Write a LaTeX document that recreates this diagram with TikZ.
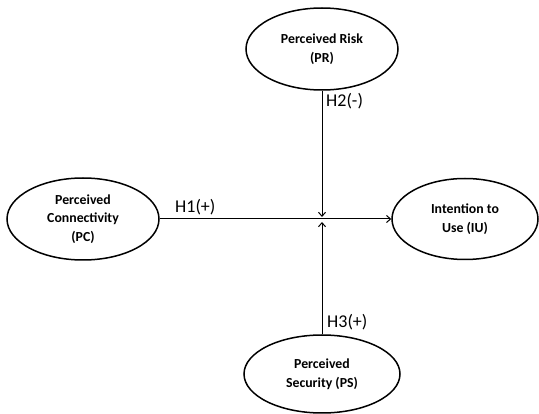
\documentclass[tikz,border=0pt]{standalone}
\usepackage{fontspec}
\setmainfont{Carlito}
\usetikzlibrary{arrows.meta,shapes.geometric}
\begin{document}
\begin{tikzpicture}[x=1pt,y=1pt,
  construct/.style={ellipse,draw=black,line width=1.5pt,inner sep=0pt,align=center,
    font=\fontsize{13.8}{18.5}\selectfont\bfseries},
  link/.style={draw=black,line width=1pt,-{Straight Barb[length=4pt,width=7pt]}},
  hyp/.style={font=\fontsize{18}{20}\selectfont,inner sep=0pt,anchor=west}]
\useasboundingbox (0,0) rectangle (539,-414);
\node[construct,minimum width=152pt,minimum height=82pt] (PR) at (322,-49) {Perceived Risk\\(PR)};
\node[construct,minimum width=152pt,minimum height=82pt] (PC) at (83,-219) {Perceived\\Connectivity\\(PC)};
\node[construct,minimum width=146pt,minimum height=81pt] (IU) at (465,-219) {Intention to\\Use (IU)};
\node[construct,minimum width=156pt,minimum height=78pt] (PS) at (322,-374) {Perceived\\Security (PS)};
\coordinate (T1) at (322,-217);
\coordinate (T2) at (322,-222);
\draw[link] (PR.south) -- (T1);
\draw[link] (PS.north) -- (T2);
\draw[link] (PC.east) -- (IU.west);
\node[hyp] (H2) at (326,-101) {H2(-)};
\node[hyp] (H1) at (175,-207) {H1(+)};
\node[hyp] (H3) at (327,-322) {H3(+)};
\end{tikzpicture}
\end{document}
